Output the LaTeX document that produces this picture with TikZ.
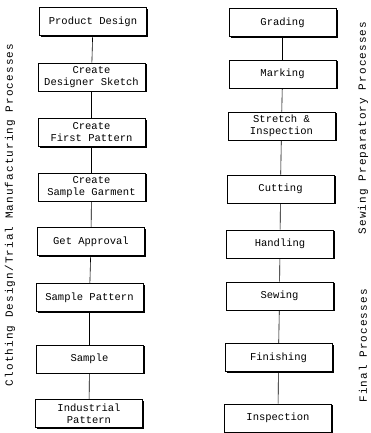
\documentclass[tikz,border=0pt]{standalone}
\usepackage{fontspec}
\setmonofont{Liberation Mono}
\newfontfamily\sidefont{Liberation Mono}[LetterSpace=10]
\usetikzlibrary{shadows}

\tikzset{
    procbox/.style={draw, fill=white, line width=0.6pt, minimum width=107pt,
        minimum height=28pt, inner sep=1pt, align=center,
        font=\ttfamily\fontsize{10.5}{12}\selectfont,
        drop shadow={shadow xshift=1.8pt, shadow yshift=-1.3pt, fill=black, opacity=1}},
    link/.style={line width=0.6pt},
    sidelabel/.style={rotate=90, font=\sidefont\fontsize{11}{13}\selectfont}
}

\begin{document}
\begin{tikzpicture}[x=1pt, y=-1pt]
            \useasboundingbox (0,0) rectangle (370,433);

            % Clothing design / trial manufacturing
            \node[procbox] (design)   at (93,21.5)  {Product Design};
            \node[procbox] (sketch)   at (91.5,77)  {Create\\Designer Sketch};
            \node[procbox] (firstpat) at (91.5,132.5) {Create\\First Pattern};
            \node[procbox] (garment)  at (91.5,187) {Create\\Sample Garment};
            \node[procbox] (approval) at (91,241.5) {Get Approval};
            \node[procbox] (samplepat) at (89.5,297.5) {Sample Pattern};
            \node[procbox] (sample)   at (89.5,359) {Sample};
            \node[procbox] (indpat)   at (89,413.5) {Industrial\\Pattern};

            \draw[link] (design) -- (sketch);
            \draw[link] (sketch) -- (firstpat);
            \draw[link] (firstpat) -- (garment);
            \draw[link] (garment) -- (approval);
            \draw[link] (approval) -- (samplepat);
            \draw[link] (samplepat) -- (sample);
            \draw[link] (sample) -- (indpat);

            % Sewing preparatory and final processes
            \node[procbox] (grading)  at (282.5,22.5) {Grading};
            \node[procbox] (marking)  at (282.5,74)  {Marking};
            \node[procbox] (stretch)  at (281.5,126) {Stretch \&\\Inspection};
            \node[procbox] (cutting)  at (280.5,189) {Cutting};
            \node[procbox] (handling) at (280,244)   {Handling};
            \node[procbox] (sewing)   at (279.5,296) {Sewing};
            \node[procbox] (finish)   at (278.5,357.5) {Finishing};
            \node[procbox] (inspect)  at (278,418)   {Inspection};

            \draw[link] (grading) -- (marking);
            \draw[link] (marking) -- (stretch);
            \draw[link] (stretch) -- (cutting);
            \draw[link] (cutting) -- (handling);
            \draw[link] (handling) -- (sewing);
            \draw[link] (sewing) -- (finish);
            \draw[link] (finish) -- (inspect);

            % Side labels
            \node[sidelabel] (leftlab) at (10,215) {Clothing Design/Trial Manufacturing Processes};
            \node[sidelabel] (preplab) at (363,128) {Sewing Preparatory Processes};
            \node[sidelabel] (finlab)  at (363,346) {Final Processes};
\end{tikzpicture}
\end{document}
